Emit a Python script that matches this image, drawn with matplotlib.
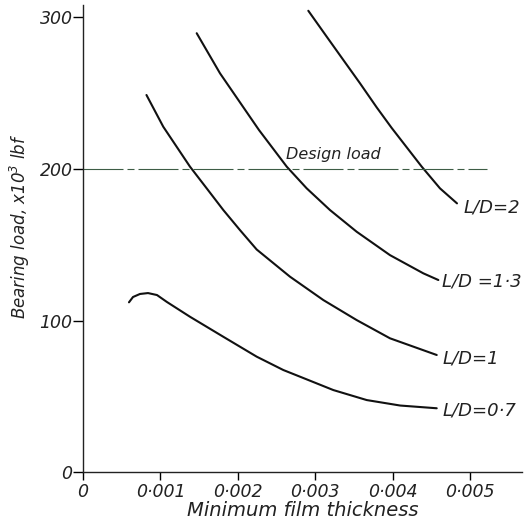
import matplotlib
matplotlib.use("Agg")
import matplotlib.pyplot as plt

# ---- data (x in units of 1e-3, load in 1e3 lbf) ----
x_07 = [0.594, 0.646, 0.736, 0.840, 0.956, 1.085, 1.382, 1.813, 2.244, 2.588,
        2.804, 3.234, 3.666, 4.098, 4.570]
y_07 = [112.0, 115.5, 117.5, 118.1, 116.8, 112.2, 102.5, 89.3, 76.2, 67.4,
        63.0, 54.2, 47.6, 44.0, 42.2]

x_10 = [0.820, 1.037, 1.382, 1.598, 1.813, 2.028, 2.244, 2.674, 3.105, 3.536,
        3.966, 4.570]
y_10 = [248.6, 227.7, 201.4, 187.1, 172.8, 159.6, 146.8, 128.9, 113.5, 100.3,
        88.3, 77.3]

x_13 = [1.469, 1.770, 2.274, 2.632, 2.890, 3.191, 3.536, 3.966, 4.397, 4.591]
y_13 = [289.3, 262.9, 225.5, 201.4, 187.1, 172.8, 158.5, 143.1, 131.1, 126.7]

x_20 = [2.911, 3.149, 3.363, 3.579, 3.795, 3.988, 4.376, 4.612, 4.832]
y_20 = [304.1, 287.0, 271.7, 256.3, 240.4, 226.9, 201.4, 187.1, 177.2]

design_load = 200
design_x = [0.0, 5.22]

curve_labels = ["L/D=0·7", "L/D=1", "L/D =1·3", "L/D=2"]
xticks = [0, 1, 2, 3, 4, 5]
xtick_labels = ["0", "0·001", "0·002", "0·003", "0·004", "0·005"]
yticks = [0, 100, 200, 300]
ytick_labels = ["0", "100", "200", "300"]

plt.rcParams['font.family'] = ['DejaVu Sans']
plt.rcParams['font.style'] = 'oblique'

fig = plt.figure(figsize=(5.31, 5.20), dpi=100)
ax = fig.add_axes([0.1563, 0.0917, 0.8262, 0.8987])
ax.set_xlim(0, 5.668)
ax.set_ylim(0, 307.9)

for s in ['top', 'right']:
    ax.spines[s].set_visible(False)
for s in ['left', 'bottom']:
    ax.spines[s].set_linewidth(1.0)
    ax.spines[s].set_color('#222222')

lc = '#111111'
series = [(x_07, y_07), (x_10, y_10), (x_13, y_13), (x_20, y_20)]
for xs, ys in series:
    ax.plot(xs, ys, color=lc, lw=1.5, solid_capstyle='round', solid_joinstyle='round')

ax.plot(design_x, [design_load, design_load], color='#3d5c45', lw=0.8,
        dashes=(36, 3.6, 6.3, 3.6))
ax.text(2.62, 209.5, "Design load", fontsize=11.5, style='oblique',
        ha='left', va='center', color='#222222')

label_pos = [(4.65, 41.0), (4.64, 75.3), (4.64, 125.4), (4.91, 174.8)]
for (lx, ly), lab in zip(label_pos, curve_labels):
    ax.text(lx, ly, lab, fontsize=13, style='oblique', ha='left', va='center',
            color='#222222')

ax.set_xticks(xticks)
ax.set_xticklabels(xtick_labels, fontsize=12.5, style='oblique', color='#222222')
ax.set_yticks(yticks)
ax.set_yticklabels(ytick_labels, fontsize=12.5, style='oblique', color='#222222')
ax.tick_params(axis='x', direction='out', length=6, width=1.0, pad=2)
ax.tick_params(axis='y', direction='out', length=7, width=1.0, pad=0.5)

ax.set_xlabel("Minimum film thickness", fontsize=14, style='oblique', labelpad=0,
              color='#222222')
ax.set_ylabel("Bearing load, x10$^{3}$ lbf", fontsize=12, style='oblique',
              color='#222222')
ax.yaxis.set_label_coords(-0.117, 0.527)

fig.savefig("out.png", dpi=100)
